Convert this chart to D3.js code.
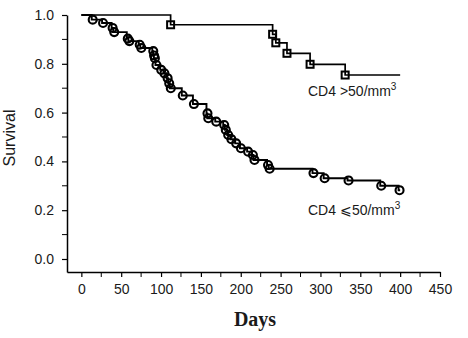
<!DOCTYPE html>
<html>
<head>
<meta charset="utf-8">
<script src="https://cdn.jsdelivr.net/npm/d3@7"></script>
<style>
  body { margin: 0; background: #fff; }
  text { font-family: "Liberation Sans", Arial, sans-serif; fill: #1a1a1a; }
</style>
</head>
<body>
<div id="chart"></div>
<script>
// CD4 > 50/mm3 group: event days and survival after each step
const highDays = [112, 240, 244, 258, 287, 331]
const highSurv = [0.96, 0.921, 0.886, 0.843, 0.798, 0.754]
const highEnd = 400

// CD4 <= 50/mm3 group
const lowDays = [13, 26, 38, 40, 57, 59, 72, 74, 89, 90, 91, 93, 99, 103, 107, 109, 111,
    126, 140, 157, 158, 168, 178, 180, 183, 187, 193, 199, 208, 214, 216, 233, 235,
    290, 304, 334, 375, 398]
const lowSurv = [0.981, 0.967, 0.947, 0.93, 0.903, 0.893, 0.878, 0.865, 0.852, 0.834, 0.823, 0.795,
    0.775, 0.761, 0.741, 0.72, 0.7, 0.67, 0.635, 0.597, 0.577, 0.563, 0.549, 0.529, 0.508,
    0.491, 0.474, 0.454, 0.44, 0.426, 0.406, 0.385, 0.37, 0.352, 0.331, 0.322, 0.3, 0.282]
const lowEnd = 400

const xTicks = [0, 50, 100, 150, 200, 250, 300, 350, 400, 450]
const xMinor = [25, 75, 125, 175, 225, 275, 325, 375, 425]
const yTicks = [0, 0.2, 0.4, 0.6, 0.8, 1.0]
const yMinor = [0.1, 0.3, 0.5, 0.7, 0.9]

const width = 468
const height = 338

const svg = d3.select('#chart')
    .append('svg')
    .attr('width', width)
    .attr('height', height)

const x = d3.scaleLinear().domain([-18, 450]).range([67, 440])
const y = d3.scaleLinear().domain([-0.0533, 1.0]).range([272, 15])

// axes
const xAxis = svg.append('g')
    .attr('transform', `translate(0, ${y.range()[0]})`)
    .call(d3.axisBottom(x).tickValues(xTicks).tickSize(5).tickSizeOuter(0).tickPadding(7).tickFormat(d3.format('d')))
xAxis.append('g')
    .selectAll('line')
    .data(xMinor)
    .enter()
    .append('line')
    .attr('x1', (d) => x(d)).attr('x2', (d) => x(d))
    .attr('y1', 0).attr('y2', 5)
    .attr('stroke', '#000')

const yAxis = svg.append('g')
    .attr('transform', `translate(${x.range()[0]}, 0)`)
    .call(d3.axisLeft(y).tickValues(yTicks).tickSize(5).tickSizeOuter(0).tickPadding(8).tickFormat(d3.format('.1f')))
yAxis.append('g')
    .selectAll('line')
    .data(yMinor)
    .enter()
    .append('line')
    .attr('y1', (d) => y(d)).attr('y2', (d) => y(d))
    .attr('x1', 0).attr('x2', -5)
    .attr('stroke', '#000')

svg.selectAll('.domain').attr('stroke', '#000').attr('stroke-width', 1.5)
svg.selectAll('.tick line').attr('stroke', '#000').attr('stroke-width', 1.2)
svg.selectAll('.tick text')
    .style('font-family', '"Liberation Sans", Arial, sans-serif')
    .style('font-size', '14px')
    .attr('fill', '#1a1a1a')

// axis titles
svg.append('text')
    .attr('transform', 'translate(15, 138) rotate(-90)')
    .attr('text-anchor', 'middle')
    .style('font-size', '16px')
    .text('Survival')

svg.append('text')
    .attr('x', 255)
    .attr('y', 326)
    .attr('text-anchor', 'middle')
    .style('font-family', '"Liberation Serif", "Times New Roman", serif')
    .style('font-weight', 'bold')
    .style('font-size', '20px')
    .attr('fill', '#000')
    .text('Days')

// step function path
const stepPoints = (days, surv, end) => {
    const pts = [[0, 1]]
    days.forEach((d, i) => {
        pts.push([d, i === 0 ? 1 : surv[i - 1]])
        pts.push([d, surv[i]])
    })
    pts.push([end, surv[surv.length - 1]])
    return pts
}

const line = d3.line()
    .x((d) => x(d[0]))
    .y((d) => y(d[1]))

svg.append('path')
    .datum(stepPoints(highDays, highSurv, highEnd))
    .attr('d', line)
    .attr('fill', 'none')
    .attr('stroke', '#000')
    .attr('stroke-width', 1.7)

svg.append('path')
    .datum(stepPoints(lowDays, lowSurv, lowEnd))
    .attr('d', line)
    .attr('fill', 'none')
    .attr('stroke', '#000')
    .attr('stroke-width', 1.9)

// markers
svg.append('g')
    .selectAll('rect')
    .data(highDays)
    .enter()
    .append('rect')
    .attr('x', (d) => x(d) - 3.5)
    .attr('y', (d, i) => y(highSurv[i]) - 3.5)
    .attr('width', 7)
    .attr('height', 7)
    .attr('fill', 'none')
    .attr('stroke', '#000')
    .attr('stroke-width', 2)

svg.append('g')
    .selectAll('circle')
    .data(lowDays)
    .enter()
    .append('circle')
    .attr('cx', (d) => x(d) + 1)
    .attr('cy', (d, i) => y(lowSurv[i]))
    .attr('r', 4)
    .attr('fill', 'none')
    .attr('stroke', '#000')
    .attr('stroke-width', 2.1)

// group labels
const label = (ty, rel) => {
    const t = svg.append('text')
        .attr('x', 308)
        .attr('y', ty)
        .style('font-size', '14px')
    t.append('tspan').text(`CD4 ${rel}50/mm`)
    t.append('tspan').attr('dy', -6).style('font-size', '10px').text('3')
}
label(96, '>')
label(215, '\u2A7D')
</script>
</body>
</html>
